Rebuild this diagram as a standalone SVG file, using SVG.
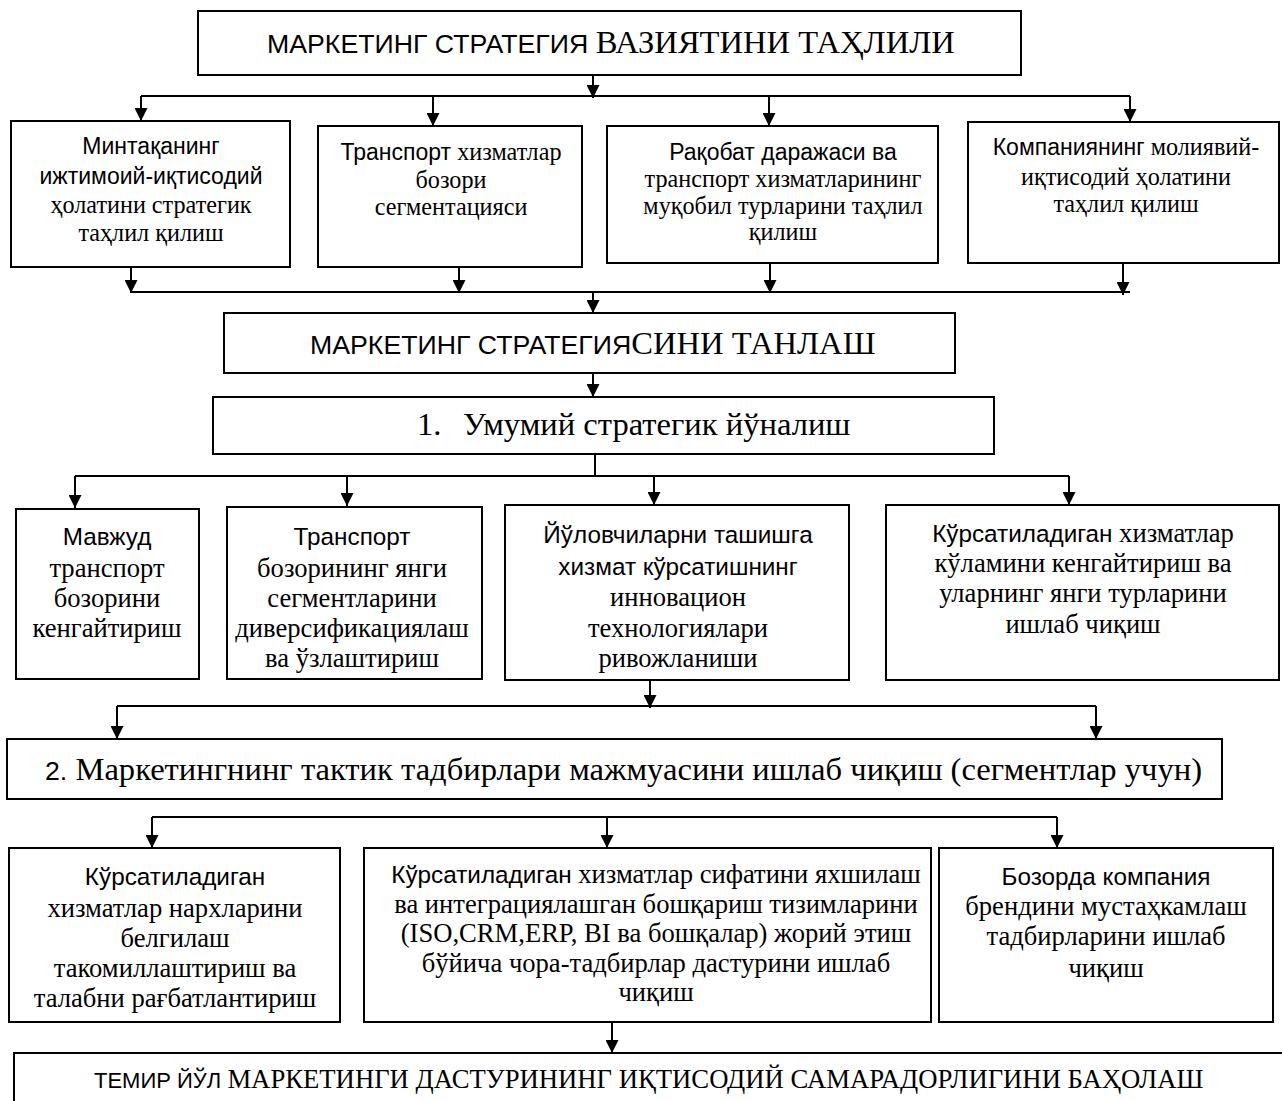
<svg xmlns="http://www.w3.org/2000/svg" width="1282" height="1101" viewBox="0 0 1282 1101">
<style>
.box{fill:#fff;stroke:#000;stroke-width:2}
.ln{fill:none;stroke:#000;stroke-width:2}
text{font-family:"Liberation Serif",serif;fill:#000}
.r1{font-size:24.2px;text-anchor:middle}
.r2{font-size:26.6px;text-anchor:middle}
.s1{font-family:"Liberation Sans",sans-serif;font-size:23px}
.s2{font-family:"Liberation Sans",sans-serif;font-size:24.3px}
.t{font-size:32.6px;text-anchor:start}
.ts{font-family:"Liberation Sans",sans-serif;font-size:26.7px}
.b{font-size:26.7px;text-anchor:start}
.bs{font-family:"Liberation Sans",sans-serif;font-size:22px}
</style>
<defs>
<marker id="ah" viewBox="0 0 14 14" refX="14" refY="7" markerWidth="14" markerHeight="13" markerUnits="userSpaceOnUse" orient="auto">
<path d="M0,0 L14,7 L0,14 Z" fill="#000"/>
</marker>
</defs>
<g id="connectors">
<path class="ln" d="M593,75 V98" marker-end="url(#ah)"/>
<path class="ln" d="M141,96 H1130"/>
<path class="ln" d="M141,96 V121" marker-end="url(#ah)"/>
<path class="ln" d="M433,96 V126" marker-end="url(#ah)"/>
<path class="ln" d="M769,96 V126" marker-end="url(#ah)"/>
<path class="ln" d="M1130,96 V122" marker-end="url(#ah)"/>
<path class="ln" d="M131,267 V293" marker-end="url(#ah)"/>
<path class="ln" d="M459,267 V293" marker-end="url(#ah)"/>
<path class="ln" d="M770,263 V293" marker-end="url(#ah)"/>
<path class="ln" d="M1123,263 V295" marker-end="url(#ah)"/>
<path class="ln" d="M131,292 H1130"/>
<path class="ln" d="M593,292 V313" marker-end="url(#ah)"/>
<path class="ln" d="M593,373 V397" marker-end="url(#ah)"/>
<path class="ln" d="M595,454 V476"/>
<path class="ln" d="M75,476 H1069"/>
<path class="ln" d="M75,476 V508" marker-end="url(#ah)"/>
<path class="ln" d="M347,476 V506" marker-end="url(#ah)"/>
<path class="ln" d="M654,476 V505" marker-end="url(#ah)"/>
<path class="ln" d="M1069,476 V505" marker-end="url(#ah)"/>
<path class="ln" d="M650,680 V708" marker-end="url(#ah)"/>
<path class="ln" d="M117,706 H1096"/>
<path class="ln" d="M117,706 V739" marker-end="url(#ah)"/>
<path class="ln" d="M1096,706 V739" marker-end="url(#ah)"/>
<path class="ln" d="M152,817 H1057"/>
<path class="ln" d="M152,817 V848" marker-end="url(#ah)"/>
<path class="ln" d="M607,817 V848" marker-end="url(#ah)"/>
<path class="ln" d="M1057,817 V848" marker-end="url(#ah)"/>
<path class="ln" d="M612,1022 V1053" marker-end="url(#ah)"/>
</g>
<g id="n-top">
<rect class="box" x="198" y="11" width="823" height="64"/>
<text x="267" y="53" class="t"><tspan class="ts">МАРКЕТИНГ СТРАТЕГИЯ </tspan>ВАЗИЯТИНИ ТАҲЛИЛИ</text>
</g>
<g id="n-a1">
<rect class="box" x="11" y="121" width="279" height="146"/>
<text x="151" y="154" class="r1"><tspan class="s1">Минтақанинг</tspan></text>
<text x="151" y="184" class="r1"><tspan class="s1">ижтимоий-иқтисодий</tspan></text>
<text x="151" y="213" class="r1">ҳолатини стратегик</text>
<text x="151" y="241" class="r1">таҳлил қилиш</text>
</g>
<g id="n-a2">
<rect class="box" x="318" y="126" width="264" height="141"/>
<text x="451" y="160" class="r1"><tspan class="s1">Транспорт</tspan> хизматлар</text>
<text x="451" y="188" class="r1">бозори</text>
<text x="451" y="215" class="r1">сегментацияси</text>
</g>
<g id="n-a3">
<rect class="box" x="607" y="126" width="331" height="137"/>
<text x="783" y="160" class="r1"><tspan class="s1">Рақобат даражаси ва</tspan></text>
<text x="783" y="187" class="r1">транспорт хизматларининг</text>
<text x="783" y="214" class="r1">муқобил турларини таҳлил</text>
<text x="783" y="240" class="r1">қилиш</text>
</g>
<g id="n-a4">
<rect class="box" x="968" y="122" width="311" height="141"/>
<text x="1126" y="155" class="r1"><tspan class="s1">Компаниянинг</tspan> молиявий-</text>
<text x="1126" y="185" class="r1">иқтисодий ҳолатини</text>
<text x="1126" y="212" class="r1">таҳлил қилиш</text>
</g>
<g id="n-choose">
<rect class="box" x="224" y="313" width="731" height="60"/>
<text x="310" y="354" class="t"><tspan class="ts">МАРКЕТИНГ СТРАТЕГИЯ</tspan>СИНИ ТАНЛАШ</text>
</g>
<g id="n-general">
<rect class="box" x="213" y="397" width="781" height="57"/>
<text x="417" y="435" class="t">1.<tspan x="463">Умумий стратегик йўналиш</tspan></text>
</g>
<g id="n-b1">
<rect class="box" x="16" y="509" width="183" height="170"/>
<text x="107" y="545" class="r2"><tspan class="s2">Мавжуд</tspan></text>
<text x="107" y="577" class="r2">транспорт</text>
<text x="107" y="607" class="r2">бозорини</text>
<text x="107" y="637" class="r2">кенгайтириш</text>
</g>
<g id="n-b2">
<rect class="box" x="227" y="507" width="255" height="172"/>
<text x="352" y="545" class="r2"><tspan class="s2">Транспорт</tspan></text>
<text x="352" y="577" class="r2">бозорининг янги</text>
<text x="352" y="607" class="r2">сегментларини</text>
<text x="352" y="637" class="r2">диверсификациялаш</text>
<text x="352" y="667" class="r2">ва ўзлаштириш</text>
</g>
<g id="n-b3">
<rect class="box" x="505" y="505" width="344" height="175"/>
<text x="678" y="543" class="r2"><tspan class="s2">Йўловчиларни ташишга</tspan></text>
<text x="678" y="575" class="r2"><tspan class="s2">хизмат кўрсатишнинг</tspan></text>
<text x="678" y="606" class="r2">инновацион</text>
<text x="678" y="637" class="r2">технологиялари</text>
<text x="678" y="667" class="r2">ривожланиши</text>
</g>
<g id="n-b4">
<rect class="box" x="886" y="505" width="393" height="175"/>
<text x="1083" y="542" class="r2"><tspan class="s2">Кўрсатиладиган</tspan> хизматлар</text>
<text x="1083" y="572" class="r2">кўламини кенгайтириш ва</text>
<text x="1083" y="602" class="r2">уларнинг янги турларини</text>
<text x="1083" y="633" class="r2">ишлаб чиқиш</text>
</g>
<g id="n-tactic">
<rect class="box" x="7" y="739" width="1215" height="60"/>
<text x="45" y="780" class="t"><tspan class="ts">2.</tspan> Маркетингнинг тактик тадбирлари мажмуасини ишлаб чиқиш (сегментлар учун)</text>
</g>
<g id="n-c1">
<rect class="box" x="9" y="848" width="331" height="174"/>
<text x="175" y="885" class="r2"><tspan class="s2">Кўрсатиладиган</tspan></text>
<text x="175" y="917" class="r2">хизматлар нархларини</text>
<text x="175" y="947" class="r2">белгилаш</text>
<text x="175" y="977" class="r2">такомиллаштириш ва</text>
<text x="175" y="1007" class="r2">талабни рағбатлантириш</text>
</g>
<g id="n-c2">
<rect class="box" x="364" y="848" width="567" height="174"/>
<text x="656" y="883" class="r2"><tspan class="s2">Кўрсатиладиган</tspan> хизматлар сифатини яхшилаш</text>
<text x="656" y="913" class="r2">ва интеграциялашган бошқариш тизимларини</text>
<text x="656" y="942" class="r2">(ISO,CRM,ERP, BI ва бошқалар) жорий этиш</text>
<text x="656" y="972" class="r2">бўйича чора-тадбирлар дастурини ишлаб</text>
<text x="656" y="1001" class="r2">чиқиш</text>
</g>
<g id="n-c3">
<rect class="box" x="939" y="848" width="334" height="174"/>
<text x="1106" y="885" class="r2"><tspan class="s2">Бозорда компания</tspan></text>
<text x="1106" y="915" class="r2">брендини мустаҳкамлаш</text>
<text x="1106" y="945" class="r2">тадбирларини ишлаб</text>
<text x="1106" y="977" class="r2">чиқиш</text>
</g>
<g id="n-eval">
<rect class="box" x="14" y="1053" width="1280" height="60"/>
<text x="94" y="1088" class="b"><tspan class="bs">ТЕМИР ЙЎЛ </tspan>МАРКЕТИНГИ ДАСТУРИНИНГ ИҚТИСОДИЙ САМАРАДОРЛИГИНИ БАҲОЛАШ</text>
</g>
</svg>
